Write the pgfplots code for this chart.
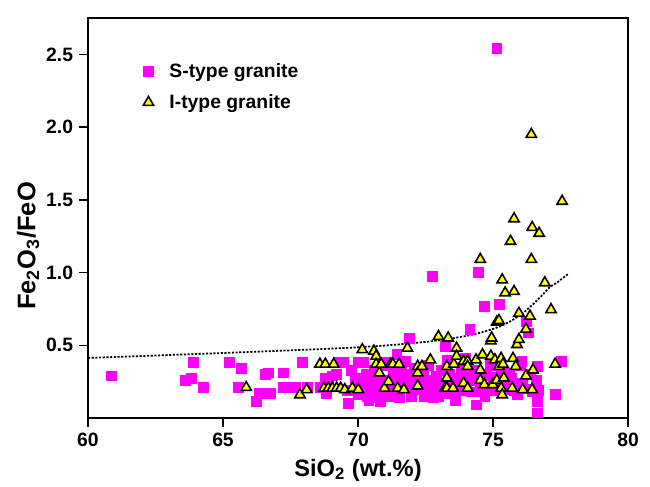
\documentclass[border=0pt]{standalone}
\usepackage{fontspec}
\setmainfont{Liberation Sans}
\usepackage{pgfplots}
\pgfplotsset{compat=1.18}
\definecolor{smag}{RGB}{255,0,255}
\definecolor{iyel}{RGB}{255,255,0}

\begin{document}
\begin{tikzpicture}
\begin{axis}[
  scale only axis, width=10.8cm, height=8cm,
  xmin=60, xmax=80, ymin=0, ymax=2.75,
  xtick={60,65,70,75,80}, ytick={0.5,1.0,1.5,2.0,2.5},
  yticklabel style={/pgf/number format/fixed, /pgf/number format/fixed zerofill, /pgf/number format/precision=1},
  /pgf/number format/assume math mode=true,
  tick align=outside, tick pos=left, major tick length=5pt,
  tick label style={font=\fontsize{11}{13}\selectfont\bfseries},
  axis line style={line width=1pt}, tick style={line width=0.8pt, black},
  xlabel={\textbf{SiO\textsubscript{2} (wt.\%)}},
  ylabel={\textbf{Fe\textsubscript{2}O\textsubscript{3}/FeO}},
  xlabel style={font=\fontsize{13.5}{15}\selectfont\bfseries, at={(axis description cs:0.5,-0.13)}, anchor=center},
  ylabel style={font=\fontsize{14.5}{16}\selectfont\bfseries, at={(axis description cs:-0.111,0.43)}, anchor=center},
  legend style={draw=none, fill=none, at={(axis description cs:0.092,0.905)}, anchor=north west,
    font=\fontsize{11}{13}\selectfont\bfseries, row sep=4pt},
  legend cell align=left,
  /tikz/every odd column/.append style={column sep=7pt},
]
\addplot[only marks, mark=square*, mark size=2.8pt, color=smag] coordinates {
(60.88,0.29) (63.62,0.26) (63.84,0.275) (63.89,0.38) (64.27,0.21) (65.23,0.38)
(65.58,0.21) (65.69,0.34) (66.25,0.115) (66.35,0.17) (66.58,0.30) (66.69,0.31)
(66.74,0.17) (67.22,0.31) (67.23,0.21) (67.36,0.21) (67.70,0.21) (67.93,0.38)
(68.13,0.21) (68.59,0.21) (68.77,0.275) (68.84,0.17) (69.05,0.29) (69.28,0.38)
(69.47,0.38) (69.64,0.10) (69.75,0.33) (70.01,0.38) (70.21,0.38) (70.13,0.275)
(70.29,0.22) (70.36,0.15) (70.52,0.26) (70.59,0.14) (70.75,0.21) (70.82,0.115)
(70.90,0.17) (71.06,0.26) (71.21,0.15) (71.29,0.31) (71.37,0.22) (71.44,0.435)
(71.52,0.14) (71.75,0.39) (71.90,0.26) (71.90,0.55) (71.98,0.15) (72.14,0.24)
(72.29,0.195) (72.41,0.31) (72.44,0.15) (72.60,0.22) (72.75,0.975) (72.83,0.26)
(72.98,0.15) (73.06,0.195) (73.22,0.49) (73.29,0.40) (73.45,0.24) (73.60,0.15)
(73.83,0.31) (73.99,0.41) (74.14,0.61) (74.22,0.26) (74.37,0.09) (74.45,1.0)
(74.53,0.21) (74.68,0.77) (74.76,0.29) (74.99,0.21) (75.14,2.54) (75.22,0.78)
(75.37,0.195) (75.60,0.31) (75.91,0.21) (76.07,0.39) (76.22,0.665) (76.30,0.585)
(76.45,0.18) (76.65,0.355) (76.65,0.18) (76.65,0.115) (76.65,0.035) (77.30,0.16)
(77.53,0.39)
(70.3,0.30) (70.5,0.20) (70.6,0.33) (70.8,0.25) (70.9,0.36) (71.0,0.19)
(71.1,0.38) (71.3,0.18) (71.4,0.28) (71.6,0.33) (71.7,0.21) (71.8,0.30)
(72.0,0.19) (72.1,0.34) (72.3,0.27) (72.5,0.25) (72.6,0.36) (72.7,0.18)
(72.9,0.29) (73.0,0.23) (73.1,0.33) (73.3,0.17) (73.4,0.30) (73.5,0.20)
(73.7,0.27) (73.8,0.19) (73.9,0.35) (74.0,0.24) (74.1,0.29) (74.2,0.18)
(74.3,0.33) (74.5,0.18) (74.6,0.30) (74.8,0.20) (74.9,0.36) (75.0,0.28)
(75.1,0.19) (75.3,0.32) (75.5,0.22) (75.7,0.27) (75.8,0.19) (76.0,0.36)
(76.1,0.24) (76.3,0.20) (76.4,0.30) (76.6,0.26) (76.7,0.19) (69.9,0.25)
(69.6,0.19) (69.2,0.30) (68.9,0.24) (70.0,0.16) (70.4,0.12) (71.5,0.24)
(72.8,0.14) (74.7,0.15) (75.9,0.16) (73.6,0.12)
};
\addlegendentry{S-type granite}
\addplot[only marks, mark=triangle*, mark size=3.4pt,
  mark options={fill=iyel, draw=black, line width=0.9pt}] coordinates {
(65.86,0.21) (67.85,0.16) (68.10,0.195) (68.59,0.37) (68.79,0.37) (69.10,0.37)
(68.74,0.205) (68.90,0.205) (69.05,0.205) (69.21,0.205) (69.36,0.205) (69.51,0.195)
(69.79,0.205) (70.01,0.195) (70.16,0.47) (70.59,0.46) (70.67,0.425) (70.67,0.37)
(70.79,0.31) (70.86,0.37) (70.98,0.205) (71.13,0.25) (71.21,0.37) (71.29,0.37)
(71.52,0.37) (71.47,0.205) (71.70,0.195) (71.83,0.48) (72.21,0.355) (72.21,0.31)
(72.21,0.22) (72.37,0.355) (72.68,0.40) (72.98,0.56) (73.34,0.55) (73.29,0.355)
(73.29,0.275) (73.22,0.205) (73.29,0.205) (73.52,0.205) (73.55,0.37) (73.65,0.48)
(73.65,0.425) (73.91,0.24) (73.91,0.39) (74.06,0.39) (74.06,0.355) (74.06,0.205)
(74.37,0.40) (74.53,1.09) (74.53,0.33) (74.53,0.26) (74.61,0.435) (74.68,0.23)
(74.92,0.425) (74.92,0.53) (74.95,0.55) (74.99,0.23) (75.07,0.40) (75.14,0.26)
(75.14,0.66) (75.22,0.67) (75.22,0.355) (75.30,0.41) (75.30,0.205) (75.34,0.95)
(75.34,0.16) (75.37,0.37) (75.40,0.275) (75.45,0.86) (75.65,1.215) (75.71,0.205)
(75.74,0.41) (75.78,0.87) (75.78,1.37) (75.84,0.355) (75.89,0.505) (75.96,0.54)
(75.96,0.72) (76.10,0.195) (76.22,0.61) (76.22,0.29) (76.37,0.70) (76.42,1.09)
(76.42,1.95) (76.45,1.31) (76.48,0.33) (76.45,0.195) (76.71,1.27) (76.92,0.93)
(77.15,0.745) (77.30,0.37) (77.56,1.49)
};
\addlegendentry{I-type granite}
\addplot[dash pattern=on 1.2pt off 0.9pt, line width=1pt, black, forget plot] coordinates {
(60,0.413) (62,0.426) (64,0.440) (66,0.454) (68,0.469) (69,0.477) (70,0.486)
(71,0.498) (72,0.514) (72.5,0.523) (73,0.534) (73.5,0.548) (74,0.564) (74.5,0.585)
(75,0.612) (75.3,0.633) (75.6,0.660) (75.9,0.694) (76.2,0.735) (76.5,0.785)
(76.8,0.840) (77.1,0.900) (77.4,0.935) (77.8,0.993)
};
\end{axis}
\pgfresetboundingbox
\path ([shift={(-1.76cm,-1.36cm)}]current axis.south west) rectangle ([shift={(0.44cm,0.36cm)}]current axis.north east);
\end{tikzpicture}
\end{document}
